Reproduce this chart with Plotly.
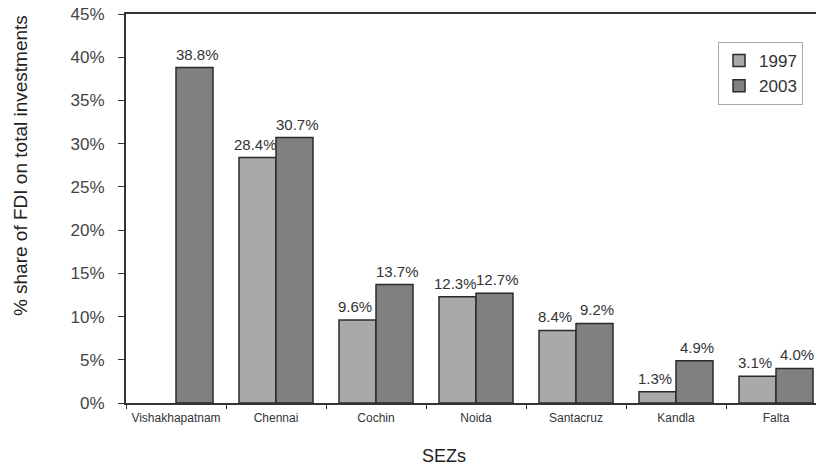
import plotly.graph_objects as go

# Share of FDI in total investments by Special Economic Zone
sezs = ["Vishakhapatnam", "Chennai", "Cochin", "Noida", "Santacruz", "Kandla", "Falta"]
share_1997 = [None, 28.4, 9.6, 12.3, 8.4, 1.3, 3.1]
share_2003 = [38.8, 30.7, 13.7, 12.7, 9.2, 4.9, 4.0]
y_ticks = [0, 5, 10, 15, 20, 25, 30, 35, 40, 45]

FONT = "Liberation Sans, Arial, sans-serif"
OUTLINE = dict(color="#2b2b2b", width=1.5)
LABEL_FONT = dict(size=15, color="#333333", family=FONT)

fig = go.Figure()
fig.add_trace(go.Bar(
    name="1997", x=sezs, y=share_1997,
    marker=dict(color="#a9a9a9", line=OUTLINE),
))
fig.add_trace(go.Bar(
    name="2003", x=sezs, y=share_2003,
    marker=dict(color="#808080", line=OUTLINE),
))

# Value labels above each bar, nudged apart so neighbouring labels do not collide
value_labels = []
for values, shift in ((share_1997, -21), (share_2003, 21)):
    for cat, v in zip(sezs, values):
        if v is None:
            continue
        value_labels.append(dict(
            text=f"{v:.1f}%", x=cat, y=v, xref="x", yref="y",
            xshift=shift, yshift=3, xanchor="center", yanchor="bottom",
            showarrow=False, font=LABEL_FONT,
        ))

fig.update_layout(
    width=816, height=466,
    margin=dict(l=126, r=0, t=14, b=63),
    plot_bgcolor="white", paper_bgcolor="white",
    barmode="group", bargap=0.26, bargroupgap=0,
    font=dict(family=FONT, color="#333333"),
    legend=dict(
        x=0.858, y=0.928, xanchor="left", yanchor="top",
        bordercolor="#aaaaaa", borderwidth=1,
        font=dict(size=17, color="#333333"),
        itemwidth=30, tracegroupgap=0,
    ),
    xaxis=dict(
        range=[-0.5, 6.4],
        showline=True, linecolor="#333333", linewidth=2, mirror=True,
        ticks="outside", tickson="boundaries", ticklen=4, tickcolor="#333333",
        ticklabelstandoff=3,
        tickfont=dict(size=12, color="#333333"),
        showgrid=False,
    ),
    yaxis=dict(
        range=[0, 45], tickvals=y_ticks, ticktext=[f"{v}%" for v in y_ticks],
        showline=True, linecolor="#333333", linewidth=2,
        ticks="outside", ticklen=6, tickcolor="#333333",
        ticklabelstandoff=10,
        tickfont=dict(size=17, color="#444444"),
        showgrid=False, zeroline=False,
    ),
    annotations=value_labels + [
        dict(text="SEZs", x=0.461, y=-0.136, xref="paper", yref="paper",
             xanchor="center", yanchor="middle", showarrow=False,
             font=dict(size=18, color="#222222")),
        dict(text="% share of FDI on total investments", textangle=-90,
             x=-0.1536, y=0.609, xref="paper", yref="paper",
             xanchor="center", yanchor="middle", showarrow=False,
             font=dict(size=19, color="#222222")),
    ],
)

fig.write_html("out.html")
